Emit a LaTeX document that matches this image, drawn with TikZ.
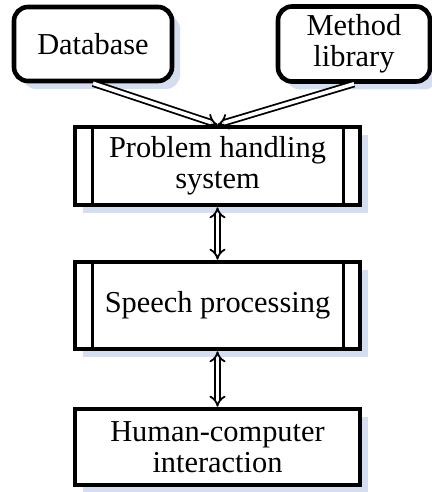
\documentclass[tikz,border=0pt]{standalone}
\usepackage{fontspec}
\setmainfont{Liberation Serif}
\usetikzlibrary{arrows.meta,shadows,calc}
\definecolor{shadowblue}{RGB}{212,222,240}
\tikzset{
  box/.style={draw=black, line width=2.3pt, fill=white, align=center,
    font=\fontsize{15.2pt}{15.4pt}\selectfont,
    general shadow={fill=shadowblue, shadow xshift=4pt, shadow yshift=-4pt}},
  rbox/.style={box, rounded corners=7pt},
  inner/.style={line width=1.6pt},
  dbl/.style={draw=black, line width=0.9pt, double=white, double distance=1.8pt},
}
\begin{document}
\begin{tikzpicture}[x=0.5pt,y=-0.5pt]
\useasboundingbox (0,0) rectangle (432,492);
\node[rbox, minimum width=79pt, minimum height=37pt] (db) at (93,44) {Database};
\node[rbox, minimum width=76pt, minimum height=37.5pt] (ml) at (354,44) {Method\\library};
\node[box, minimum width=142.5pt, minimum height=39pt] (ph) at (217.5,166) {Problem handling\\system};
\node[box, minimum width=142.5pt, minimum height=43.5pt] (sp) at (217.5,305.5) {Speech processing};
\node[box, minimum width=142.5pt, minimum height=38pt] (hc) at (217.5,447) {Human-computer\\interaction};
\foreach \n in {ph,sp}{
  \draw[inner] ($(\n.north west)+(20,0)$) -- ($(\n.south west)+(20,0)$);
  \draw[inner] ($(\n.north east)+(-19,0)$) -- ($(\n.south east)+(-19,0)$);
}
\draw[dbl, -{Implies}] (db.south) -- (ph.north);
\draw[dbl, -{Implies}] (ml.south) -- (ph.north);
\draw[dbl, {Implies}-{Implies}] (ph.south) -- (sp.north);
\draw[dbl, {Implies}-{Implies}] (sp.south) -- (hc.north);
\end{tikzpicture}
\end{document}
